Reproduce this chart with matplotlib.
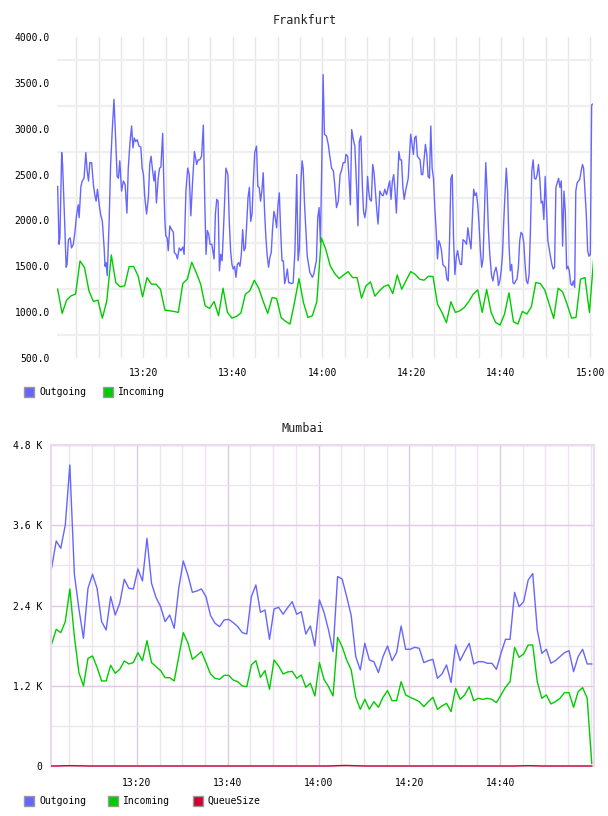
import pandas as pd
import matplotlib
matplotlib.use('Agg')
import matplotlib.pyplot as plt
import matplotlib.dates as mdates
from matplotlib.patches import Rectangle
from matplotlib.ticker import FixedLocator, FuncFormatter

base = pd.Timestamp('2014-03-10 13:00')

# Frankfurt - Outgoing (minutes after 13:00, value)
fra_out_min = [0.8, 1.1, 1.3, 1.7, 1.9, 2.3, 2.7, 2.9, 3.2, 3.6, 3.9, 4.3, 4.7, 5.0, 5.4, 5.6, 6.0, 6.3, 6.7, 7.1,
               7.4, 7.7, 8.0, 8.4, 8.8, 9.1, 9.4, 9.7, 10.1, 10.4, 10.8, 11.2, 11.4, 11.6, 11.9, 12.3, 12.65, 13.0, 13.4, 13.8,
               14.1, 14.4, 14.7, 15.1, 15.5, 15.9, 16.3, 16.6, 17.0, 17.35, 17.65, 17.95, 18.25, 18.6, 19.0, 19.4, 19.7, 20.0, 20.3, 20.7,
               21.1, 21.4, 21.7, 22.05, 22.35, 22.6, 22.9, 23.3, 23.6, 23.9, 24.3, 24.6, 24.8, 25.0, 25.3, 25.55, 25.9, 26.3, 26.7, 26.9,
               27.3, 27.6, 28.0, 28.4, 28.8, 29.1, 29.5, 29.9, 30.25, 30.6, 31.0, 31.4,
               31.6, 31.9, 32.2, 32.6, 33.0, 33.4, 33.7, 34.0, 34.3, 34.6, 34.9, 35.3, 35.8, 36.1, 36.4, 36.7, 37.0, 37.3, 37.6, 37.9,
               38.2, 38.45, 38.9, 39.2, 39.5, 39.8, 40.1, 40.4, 40.7, 41.0, 41.3, 41.6, 41.9, 42.2, 42.5, 42.8, 43.1, 43.4, 43.7, 44.0,
               44.3, 44.6, 44.9, 45.3, 45.6, 45.9, 46.2, 46.5, 46.8, 47.1, 47.4, 47.7, 48.0, 48.3, 48.6, 48.9, 49.2, 49.5, 49.8, 50.1,
               50.4, 50.7, 51.0, 51.3, 51.6, 51.9, 52.2, 52.5, 52.8, 53.1, 53.5, 53.9, 54.3, 54.6, 54.9, 55.2, 55.5, 55.75, 56.05, 56.35,
               56.65, 56.95, 57.25, 57.5, 57.8, 58.1, 58.4, 58.7, 59.0, 59.3, 59.6, 59.9, 60.2, 60.5, 60.95, 61.35,
               61.7, 62.1, 62.5, 62.8, 63.2, 63.6, 64.0, 64.3, 64.7, 65.1, 65.3, 65.7, 66.0, 66.3, 66.6, 66.9, 67.3, 67.7, 68.0, 68.3,
               68.65, 69.0, 69.25, 69.55, 69.85, 70.15, 70.4, 70.65, 71.0, 71.3, 71.6, 71.9, 72.2, 72.5, 72.9, 73.3, 73.65, 74.0, 74.4, 74.8,
               75.1, 75.4, 75.7, 76.0, 76.3, 76.6, 76.9, 77.15, 77.45, 77.75, 78.05, 78.35, 78.65, 78.95, 79.25, 79.5, 79.8, 80.1, 80.4, 80.7,
               81.0, 81.3, 81.6, 81.9, 82.2, 82.5, 82.8, 83.1, 83.4, 83.7, 84.0, 84.3, 84.6, 84.9, 85.2, 85.5, 85.8, 86.1, 86.4, 86.7,
               87.0, 87.3, 87.6, 87.9, 88.2, 88.5, 88.8, 89.1, 89.4, 89.7, 90.0, 90.3, 90.6, 90.9, 91.2, 91.5, 91.8,
               92.3, 92.6, 92.9, 93.3, 93.6, 93.9, 94.2, 94.5, 94.8, 95.1, 95.4, 95.7, 96.0, 96.3, 96.6, 96.9, 97.2, 97.5, 97.9, 98.2,
               98.5, 98.9, 99.2, 99.45, 99.75, 100.05, 100.35, 100.6, 100.9, 101.2, 101.5, 101.8, 102.1, 102.4, 102.7, 103.0, 103.3, 103.6, 103.9, 104.2,
               104.5, 104.8, 105.1, 105.4, 105.7, 106.0, 106.3, 106.6, 106.9, 107.2, 107.5, 107.8, 108.1, 108.4, 108.7, 109.0, 109.3, 109.6, 109.9, 110.2,
               110.5, 110.8, 111.1, 111.4, 111.7, 112.0, 112.3, 112.6, 112.9, 113.2, 113.5, 113.8, 114.1, 114.4, 114.7, 115.0, 115.3, 115.6, 115.9, 116.2,
               116.5, 116.75, 117.05, 117.35, 117.65, 117.95, 118.25, 118.5, 118.8, 119.1, 119.4, 119.7, 120.0, 120.3, 120.6]
fra_out_val = [2370, 1740, 1810, 2740, 2610, 2070, 1490, 1520, 1790, 1810, 1700, 1740, 1890, 2050, 2170, 2030, 2370, 2430, 2460, 2740,
               2540, 2430, 2630, 2630, 2390, 2280, 2210, 2340, 2170, 2070, 1990, 1700, 1500, 1540, 1400, 1960, 2610, 2970, 3320, 2860,
               2480, 2460, 2650, 2320, 2430, 2390, 2080, 2570, 2860, 3030, 2790, 2900, 2860, 2880, 2810, 2800, 2570, 2500, 2250, 2070,
               2250, 2610, 2700, 2540, 2430, 2540, 2190, 2460, 2570, 2580, 2950, 2320, 1990, 1830, 1810, 1670, 1940, 1900, 1870, 1650,
               1630, 1580, 1700, 1670, 1710, 1630, 2320, 2570, 2500, 2050, 2430, 2750,
               2700, 2610, 2660, 2660, 2700, 3040, 2250, 1630, 1890, 1850, 1740, 1740, 1580, 2070, 2230, 2210, 1450, 1630, 1560, 1890,
               2250, 2570, 2500, 1990, 1670, 1520, 1470, 1500, 1380, 1520, 1540, 1500, 1630, 1900, 1670, 1700, 1960, 2250, 2360, 1990,
               2070, 2430, 2740, 2810, 2370, 2360, 2210, 2320, 2520, 2100, 1810, 1610, 1490, 1600, 1650, 1920, 2100, 2030, 1920, 2170,
               2300, 1890, 1560, 1560, 1310, 1380, 1470, 1320, 1320, 1310, 1320, 1670, 2500, 1560, 1700, 2390, 2650, 2560, 2170, 1890,
               1610, 1520, 1430, 1410, 1380, 1410, 1490, 1560, 2030, 2140, 1760, 2610, 3590, 2940, 2920, 2830,
               2700, 2570, 2540, 2390, 2140, 2210, 2500, 2540, 2630, 2630, 2720, 2700, 2460, 2170, 2990, 2900, 2810, 2360, 1940, 2860,
               2920, 2360, 2100, 2030, 2140, 2480, 2320, 2230, 2210, 2610, 2520, 2320, 2120, 1960, 2320, 2280, 2270, 2340, 2280, 2370,
               2430, 2230, 2430, 2500, 2320, 2080, 2430, 2750, 2660, 2660, 2360, 2230, 2320, 2390, 2460, 2680, 2940, 2830, 2720, 2900,
               2920, 2700, 2680, 2660, 2500, 2500, 2660, 2830, 2720, 2480, 2460, 3030, 2570, 2460, 2140, 1890, 1580, 1780, 1740, 1670,
               1520, 1500, 1490, 1360, 1340, 1780, 2460, 2500, 1790, 1410, 1600, 1670, 1580, 1520, 1520, 1790, 1780,
               1740, 1920, 1810, 1690, 2030, 2340, 2270, 2300, 2170, 1960, 1670, 1490, 1580, 2070, 2630, 2320, 1890, 1630, 1400, 1340,
               1430, 1490, 1410, 1290, 1340, 1450, 1630, 1960, 2280, 2570, 2320, 1740, 1450, 1520, 1320, 1310, 1340, 1360, 1490, 1780,
               1870, 1850, 1760, 1520, 1340, 1310, 1410, 1890, 2540, 2660, 2460, 2450, 2500, 2610, 2450, 2190, 2210, 2010, 2480, 2140,
               1780, 1690, 1600, 1520, 1470, 1490, 2360, 2410, 2460, 2360, 2430, 1720, 2320, 2100, 1470, 1500, 1450, 1310, 1290, 1340,
               1270, 2320, 2410, 2430, 2450, 2540, 2610, 2570, 2320, 2070, 1670, 1610, 1630, 3260, 3270]

# Frankfurt - Incoming, one value per minute from 13:00:48
fra_in_val = [1250, 986, 1131, 1178, 1196, 1558, 1486, 1232, 1116, 1131, 935, 1124, 1624, 1323, 1276, 1287,
              1497, 1497, 1395, 1167, 1377, 1305, 1305, 1250, 1022, 1015, 1008, 997, 1312, 1359, 1544,
              1432, 1305, 1069, 1040, 1116, 961, 1261, 997, 935, 953, 990, 1196, 1232, 1348, 1261,
              1116, 986, 1160, 1149, 942, 899, 870, 1106, 1366, 1106, 942, 961, 1116, 1810, 1685,
              1504, 1421, 1366, 1406, 1442, 1377, 1377, 1153, 1287, 1330, 1174, 1232, 1279, 1298, 1203,
              1406, 1250, 1348, 1442, 1413, 1359, 1348, 1392, 1388, 1087, 997, 885, 1113, 997,
              1015, 1051, 1116, 1196, 1243, 997, 1247, 997, 888, 859, 979, 1211, 895, 870, 1008, 979,
              1058, 1323, 1312, 1243, 1087, 932, 1261, 1221, 1087, 935, 942, 1359, 1377, 997, 1613]

# Mumbai, one value per minute from 13:01:12
mum_out_val = [2966, 3365, 3255, 3604, 4501, 2867, 2350, 1909, 2657, 2867, 2657, 2159, 2034, 2533, 2258, 2433, 2792, 2657, 2647, 2946,
               2767, 3405, 2732, 2518, 2383, 2159, 2258, 2059, 2657, 3066, 2857, 2597, 2617, 2647, 2533, 2250, 2134, 2084, 2184, 2193,
               2144, 2084, 1994, 1974, 2533, 2707, 2298, 2333, 1894, 2348, 2373, 2269, 2368, 2458, 2269, 2308, 1974, 2094, 1795, 2483,
               2300, 2034, 1710, 2832, 2797, 2533, 2250, 1635, 1436, 1835, 1585, 1560, 1396, 1635, 1795, 1575, 1695, 2094, 1745, 1745,
               1775, 1760, 1546, 1575, 1595, 1311, 1376, 1511, 1247, 1810, 1575, 1710, 1835, 1526, 1560, 1560, 1536, 1536, 1446, 1685,
               1894, 1894, 2597, 2383, 2458, 2782, 2877, 2034, 1685, 1745, 1536, 1575, 1635, 1695, 1725, 1411, 1635, 1745, 1526, 1526]
mum_in_val = [1825, 2044, 1994, 2159, 2647, 1934, 1396, 1197, 1610, 1645, 1476, 1272, 1272, 1506, 1386, 1446, 1570, 1526, 1546, 1695,
              1575, 1874, 1546, 1486, 1426, 1321, 1321, 1272, 1635, 1994, 1845, 1595, 1650, 1710, 1546, 1376, 1311, 1296, 1356, 1356,
              1286, 1261, 1197, 1187, 1511, 1575, 1326, 1426, 1147, 1585, 1496, 1376, 1406, 1416, 1311, 1361, 1177, 1237, 1047, 1546,
              1296, 1187, 1047, 1924, 1785, 1585, 1436, 1027, 848, 997, 848, 962, 878, 1027, 1127, 977, 977, 1261, 1062, 1027,
              997, 962, 888, 962, 1027, 848, 898, 937, 813, 1162, 997, 1062, 1187, 977, 1012, 997, 1012, 997, 947, 1062,
              1177, 1261, 1775, 1625, 1675, 1810, 1810, 1261, 1012, 1062, 928, 962, 1012, 1097, 1097, 878, 1112, 1172, 1012, 40]
mum_queue_val = [0, 0, 2, 4, 5, 4, 3, 2, 0, 0, 0, 0, 0, 0, 0, 0, 0, 0, 0, 0,
                 0, 0, 0, 0, 0, 0, 0, 0, 0, 0, 0, 0, 0, 0, 0, 0, 0, 0, 0, 0,
                 0, 0, 0, 0, 0, 0, 0, 0, 0, 0, 0, 0, 0, 0, 0, 0, 0, 0, 0, 0,
                 0, 0, 2, 5, 7, 8, 6, 4, 2, 0, 0, 0, 0, 0, 0, 0, 0, 0, 0, 0,
                 0, 0, 0, 0, 0, 0, 0, 0, 0, 0, 0, 0, 0, 0, 0, 0, 0, 0, 0, 0,
                 0, 0, 0, 2, 4, 5, 4, 2, 0, 0, 0, 0, 0, 0, 0, 0, 0, 0, 0, 0]

blue = '#6666ff'
green = '#00cc00'
red = '#cc0033'
mono = 'DejaVu Sans Mono'

W, H = 608, 816
fig = plt.figure(figsize=(W / 100, H / 100), dpi=100)
fig.patch.set_facecolor('white')


def box(l, t, r, b):
    return [l / W, 1 - b / H, (r - l) / W, (b - t) / H]


def legend(y, items):
    for x, col, name in items:
        fig.add_artist(Rectangle((x / W, 1 - (y + 5) / H), 10 / W, 10 / H, transform=fig.transFigure,
                                 facecolor=col, edgecolor='#999999', lw=1))
        fig.text((x + 15) / W, 1 - y / H, name, family=mono, fontsize=7, va='center', ha='left')


def mins(m):
    return base + pd.Timedelta(minutes=m)


# ---------------- Frankfurt
ax1 = fig.add_axes(box(57, 37, 593, 358))
t_out = base + pd.to_timedelta(fra_out_min, unit='m')
t_in = pd.date_range(base + pd.Timedelta(seconds=48), periods=len(fra_in_val), freq='1min')
ax1.plot(t_out, fra_out_val, color=blue, lw=1.0)
ax1.plot(t_in, fra_in_val, color=green, lw=1.0)
ax1.set_xlim(mins(0.65), mins(120.6))
ax1.set_ylim(500, 4000)
ax1.set_yticks(range(500, 4001, 500))
ax1.yaxis.set_minor_locator(FixedLocator(range(750, 4000, 500)))
ax1.yaxis.set_major_formatter(FuncFormatter(lambda v, p: f'{v:.1f}'))
ax1.xaxis.set_major_locator(mdates.MinuteLocator(byminute=[0, 20, 40]))
ax1.xaxis.set_minor_locator(mdates.MinuteLocator(byminute=range(0, 60, 5)))
ax1.xaxis.set_major_formatter(mdates.DateFormatter('%H:%M'))
ax1.grid(which='both', axis='x', color='#e6e6e6', lw=1.0)
ax1.grid(which='minor', axis='y', color='#efefef', lw=1.6)
ax1.set_axisbelow(True)
for s in ax1.spines.values():
    s.set_visible(False)
ax1.tick_params(which='both', length=0)
ax1.tick_params(axis='y', pad=5)
ax1.tick_params(axis='x', pad=7)
for lab in ax1.get_xticklabels() + ax1.get_yticklabels():
    lab.set_family(mono)
    lab.set_fontsize(7)
fig.text(305 / W, 1 - 20 / H, 'Frankfurt', family=mono, fontsize=8.5, ha='center', va='center', color='#222222')
legend(392, [(24, blue, 'Outgoing'), (103, green, 'Incoming')])

# ---------------- Mumbai
ax2 = fig.add_axes(box(51, 445, 594, 766))
t_m = pd.date_range(base + pd.Timedelta(seconds=72), periods=len(mum_out_val), freq='1min')
ax2.plot(t_m, mum_out_val, color=blue, lw=1.0)
ax2.plot(t_m, mum_in_val, color=green, lw=1.0)
ax2.plot(t_m, mum_queue_val, color=red, lw=1.0, clip_on=False, zorder=3)
ax2.set_xlim(mins(1.05), mins(120.7))
ax2.set_ylim(0, 4800)
ax2.yaxis.set_major_locator(FixedLocator([0, 1200, 2400, 3600, 4800]))
ax2.yaxis.set_minor_locator(FixedLocator([600, 1800, 3000, 4200]))
ax2.yaxis.set_major_formatter(FuncFormatter(lambda v, p: '0' if v == 0 else f'{v / 1000:.1f} K'))
ax2.xaxis.set_major_locator(FixedLocator([mdates.date2num(mins(m)) for m in (20, 40, 60, 80, 100)]))
ax2.xaxis.set_minor_locator(FixedLocator([mdates.date2num(mins(m)) for m in range(5, 121, 5)]))
ax2.xaxis.set_major_formatter(mdates.DateFormatter('%H:%M'))
ax2.grid(which='major', color='#e0c8e4', lw=1.0)
ax2.grid(which='minor', color='#ece4ee', lw=1.0)
ax2.set_axisbelow(True)
for s in ax2.spines.values():
    s.set_color('#eadaee')
    s.set_linewidth(1.5)
ax2.tick_params(which='both', length=0)
ax2.tick_params(axis='y', pad=6)
ax2.tick_params(axis='x', pad=9)
for lab in ax2.get_xticklabels() + ax2.get_yticklabels():
    lab.set_family(mono)
    lab.set_fontsize(7)
fig.text(303 / W, 1 - 428 / H, 'Mumbai', family=mono, fontsize=8.5, ha='center', va='center', color='#222222')
legend(801, [(24, blue, 'Outgoing'), (108, green, 'Incoming'), (193, red, 'QueueSize')])

fig.savefig('out.png', dpi=100, facecolor='white')
